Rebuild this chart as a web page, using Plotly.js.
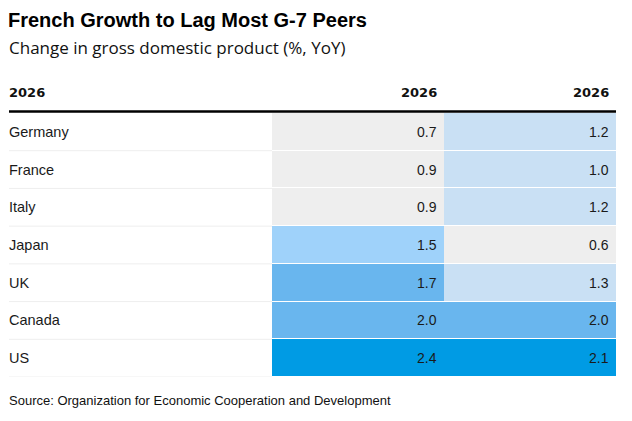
<!DOCTYPE html>
<html>
<head>
<meta charset="utf-8">
<script src="https://cdn.plot.ly/plotly-3.0.1.min.js"></script>
<style>html,body{margin:0;padding:0;background:#fff;}#chart{width:632px;height:421px;}</style>
</head>
<body>
<div id="chart"></div>
<script>
const countries = ["Germany", "France", "Italy", "Japan", "UK", "Canada", "US"];
const columnHeaders = ["2026", "2026"];
const firstHeader = "2026";
const growthCol1 = [0.7, 0.9, 0.9, 1.5, 1.7, 2.0, 2.4];
const growthCol2 = [1.2, 1.0, 1.2, 0.6, 1.3, 2.0, 2.1];
const titleText = "French Growth to Lag Most G-7 Peers";
const subtitleText = "Change in gross domestic product (%, YoY)";
const sourceText = "Source: Organization for Economic Cooperation and Development";

const W = 632, H = 421;
const px = v => v / W;
const py = v => 1 - v / H;

const rowIdx = countries.map((_, i) => i);
const z = countries.map((_, i) => [growthCol1[i], growthCol2[i]]);

const cG = "#eeeeee", cLB = "#c9e0f4", cM = "#9fd2fa", cB = "#69b6ee", cD = "#009be4";
const colorscale = [
  [0, cG], [0.25, cG], [0.25, cLB], [0.45, cLB], [0.45, cM], [0.55, cM],
  [0.55, cB], [0.775, cB], [0.775, cD], [1, cD]
];

const font = "Liberation Sans, Arial, sans-serif";
const headFont = "DejaVu Sans, sans-serif";
const subFont = "Open Sans, Liberation Sans, sans-serif";
const textColor = "#1a1a1a";

const trace = {
  type: "heatmap",
  z: z,
  x: [0, 1],
  y: rowIdx,
  zmin: 0.5, zmax: 2.5,
  colorscale: colorscale,
  showscale: false,
  xgap: 0, ygap: 1,
  hoverinfo: "skip"
};

const annotations = [];
annotations.push({xref: "paper", yref: "paper", x: px(9), y: py(47), xanchor: "left", yanchor: "middle", xshift: -2,
  text: subtitleText, showarrow: false, font: {family: subFont, size: 17, color: "#111"}});
annotations.push({xref: "paper", yref: "paper", x: px(9), y: py(92), xanchor: "left", yanchor: "middle", xshift: -2,
  text: "<b>" + firstHeader + "</b>", showarrow: false, font: {family: headFont, size: 13, color: "#111"}});
columnHeaders.forEach((h, c) => {
  annotations.push({xref: "x", yref: "paper", x: c + 0.5, y: py(92), xanchor: "right", yanchor: "middle", xshift: -5,
    text: "<b>" + h + "</b>", showarrow: false, font: {family: headFont, size: 13, color: "#111"}});
});
countries.forEach((name, i) => {
  annotations.push({xref: "paper", yref: "y", x: px(9), y: i, xanchor: "left", yanchor: "middle", xshift: -2,
    text: name, showarrow: false, font: {family: font, size: 14.5, color: textColor}});
  [growthCol1[i], growthCol2[i]].forEach((v, c) => {
    annotations.push({xref: "x", yref: "y", x: c + 0.5, y: i, xanchor: "right", yanchor: "middle", xshift: -5,
      text: v.toFixed(1), showarrow: false, font: {family: font, size: 14, color: textColor}});
  });
});
annotations.push({xref: "paper", yref: "paper", x: px(9), y: py(400), xanchor: "left", yanchor: "middle", xshift: -2,
  text: sourceText, showarrow: false, font: {family: font, size: 13, color: "#111"}});

const shapes = [];
shapes.push({type: "line", xref: "paper", yref: "paper", x0: px(9), x1: px(616), y0: py(111.5), y1: py(111.5),
  line: {color: "#000", width: 2.5}});
countries.forEach((_, i) => {
  shapes.push({type: "line", xref: "paper", yref: "y", x0: px(9), x1: px(272), y0: i + 0.5, y1: i + 0.5,
    line: {color: "#eeeeee", width: 1}, layer: "below"});
});

const layout = {
  width: W, height: H,
  margin: {l: 0, r: 0, t: 0, b: 0, pad: 0},
  paper_bgcolor: "#fff", plot_bgcolor: "#fff",
  title: {text: "<b>" + titleText + "</b>", x: px(8), xanchor: "left", xref: "paper",
    y: py(20), yref: "paper", yanchor: "middle", font: {family: font, size: 20, color: "#000"}},
  xaxis: {domain: [px(272), px(616)], range: [-0.5, 1.5], visible: false, fixedrange: true},
  yaxis: {domain: [py(377), py(113)], range: [6.5, -0.5], visible: false, fixedrange: true},
  showlegend: false,
  annotations: annotations,
  shapes: shapes
};

Plotly.newPlot("chart", [trace], layout, {displayModeBar: false, staticPlot: true});
</script>
</body>
</html>
